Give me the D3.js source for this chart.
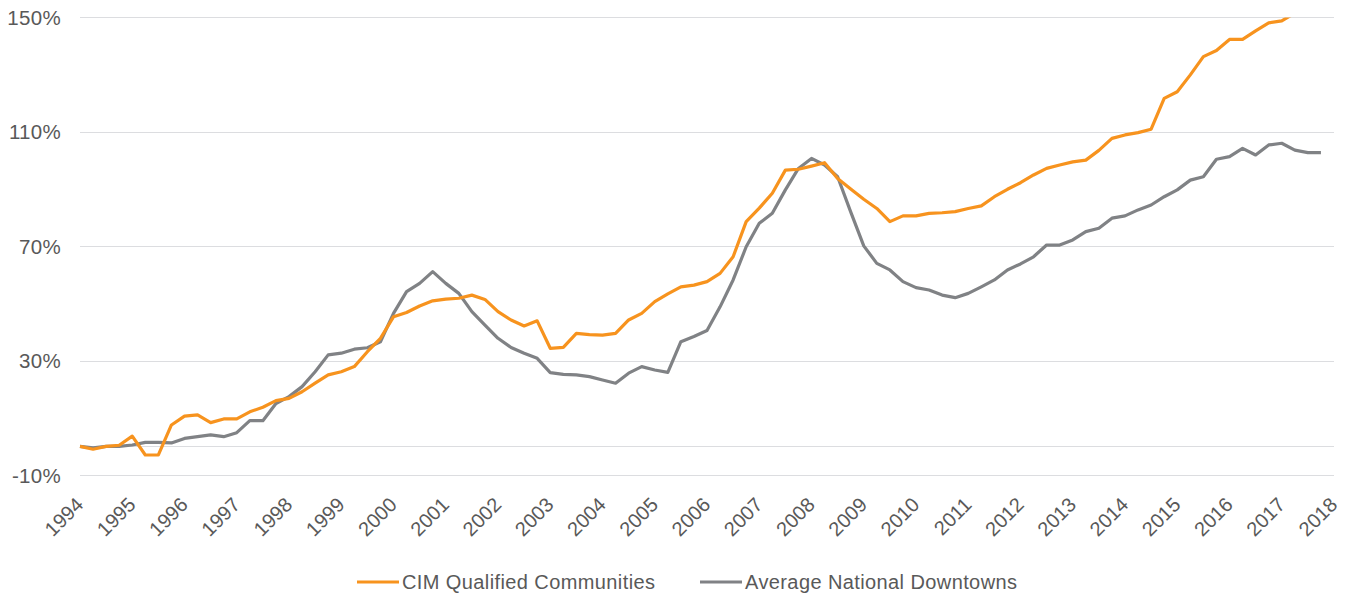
<!DOCTYPE html>
<html>
<head>
<meta charset="utf-8">
<script src="https://cdn.jsdelivr.net/npm/d3@7"></script>
<style>
  html, body { margin: 0; padding: 0; background: #fff; }
  svg { display: block; }
  text { font-family: "Liberation Sans", Arial, sans-serif; fill: #595959; }
</style>
</head>
<body>
<svg id="chart" width="1349" height="598"></svg>
<script>
// Quarterly data, 1994 Q1 – 2017 Q4 (cumulative % change)
const years = [1994,1995,1996,1997,1998,1999,2000,2001,2002,2003,2004,2005,2006,2007,2008,2009,2010,2011,2012,2013,2014,2015,2016,2017,2018];
const yTicks = [-10, 30, 70, 110, 150];
const gridValues = [-10, 0, 30, 70, 110, 150];
const seriesNames = ["CIM Qualified Communities", "Average National Downtowns"];

const cim = [0, -1, 0, 0.4, 3.6, -3, -3, 7.5, 10.6, 11, 8.3, 9.6, 9.6, 12.1, 13.7, 16, 16.8, 19.1, 22.1, 25, 26.1,
  27.9, 33.1, 37.8, 45.3, 46.8, 49.1, 50.9, 51.5, 51.8, 52.9, 51.4, 47.1, 44.2, 42.1, 43.9, 34.3, 34.6, 39.5, 39.1,
  38.9, 39.5, 44.2, 46.5, 50.6, 53.3, 55.8, 56.4, 57.6, 60.5, 66.3, 78.6, 83.3, 88.5, 96.6, 96.9, 98, 99.2, 93.7, 90,
  86.4, 83.2, 78.6, 80.6, 80.6, 81.5, 81.7, 82.1, 83.2, 84.1, 87.3, 89.9, 92.2, 94.9, 97.2, 98.4, 99.5, 100.1, 103.5,
  107.7, 108.9, 109.7, 110.9, 121.7, 124, 129.9, 136.3, 138.4, 142.3, 142.3, 145.3, 148.1, 148.8, 151.5, null, null];

const downtowns = [0, -0.5, 0, 0, 0.5, 1.4, 1.4, 1.2, 2.8, 3.4, 4.0, 3.4, 4.8, 9.0, 9.0, 15, 17.4, 20.9, 26.1, 32.0, 32.6,
  34.0, 34.5, 36.6, 46.5, 54.1, 57.0, 61.1, 57.0, 53.5, 47.1, 42.4, 37.8, 34.6, 32.6, 30.8, 25.8, 25.2, 25.0, 24.4,
  23.2, 22.1, 25.6, 27.9, 26.7, 25.9, 36.6, 38.4, 40.5, 48.8, 58.2, 69.8, 78, 81.5, 89.7, 97.2, 100.7, 98.4, 94.3, 82,
  70.1, 64, 61.7, 57.6, 55.5, 54.7, 52.9, 52, 53.5, 55.8, 58.2, 61.7, 63.8, 66.3, 70.4, 70.4, 72.2, 75.1, 76.3,
  79.8, 80.6, 82.7, 84.4, 87.3, 89.7, 93.1, 94.3, 100.4, 101.3, 104.2, 101.9, 105.4, 106, 103.6, 102.7, 102.7];

const colors = ["#F7931E", "#808285"];

const svg = d3.select("#chart");
const mLeft = 80, mRight = 1334, mTop = 17.4, mBottom = 475;

const x = d3.scaleLinear().domain([0, (years.length - 1) * 4]).range([mLeft, mRight]);
const y = d3.scaleLinear().domain([-10, 150]).range([mBottom, mTop]);

// clip
svg.append("defs").append("clipPath").attr("id", "plot")
  .append("rect").attr("x", mLeft - 5).attr("y", mTop).attr("width", mRight - mLeft + 10).attr("height", mBottom - mTop + 5);

// gridlines
svg.append("g").selectAll("line").data(gridValues).join("line")
  .attr("x1", mLeft).attr("x2", mRight)
  .attr("y1", d => Math.round(y(d)) + 0.5).attr("y2", d => Math.round(y(d)) + 0.5)
  .attr("stroke", "#dcdde0").attr("stroke-width", 1);

// y axis labels
const yAxis = d3.axisLeft(y).tickValues(yTicks).tickFormat(d => d + "%").tickSize(0).tickPadding(0);
const gy = svg.append("g").attr("transform", `translate(61,0)`).call(yAxis);
gy.select(".domain").remove();
gy.selectAll("text").style("font-size", "20.5px").attr("fill", "#595959")
  .style("letter-spacing", "0.3px")
  .style("font-family", '"Liberation Sans", Arial, sans-serif').attr("dy", "0.35em");

// x axis labels
const xAxis = d3.axisBottom(x).tickValues(years.map((yr, i) => i * 4)).tickFormat((d, i) => years[i]).tickSize(0);
const gx = svg.append("g").attr("transform", `translate(0,${mBottom})`).call(xAxis);
gx.select(".domain").remove();
gx.selectAll("text")
  .style("font-size", "20px").attr("fill", "#595959")
  .style("font-family", '"Liberation Sans", Arial, sans-serif')
  .attr("text-anchor", "end")
  .attr("dy", null).attr("y", null)
  .attr("transform", "translate(4,31) rotate(-45)");

// lines
const line = d3.line().defined(d => d != null).x((d, i) => x(i)).y(d => y(d));
const g = svg.append("g").attr("clip-path", "url(#plot)");
[downtowns, cim].forEach((s, k) => {
  g.append("path").datum(s)
    .attr("d", line)
    .attr("fill", "none")
    .attr("stroke", k === 0 ? colors[1] : colors[0])
    .attr("stroke-width", 3.2)
    .attr("stroke-linejoin", "round");
});

// legend
const legendItems = [
  { name: seriesNames[0], color: colors[0], x: 357 },
  { name: seriesNames[1], color: colors[1], x: 700 }
];
const lg = svg.append("g");
legendItems.forEach(it => {
  lg.append("line").attr("x1", it.x).attr("x2", it.x + 42).attr("y1", 582).attr("y2", 582)
    .attr("stroke", it.color).attr("stroke-width", 3.2);
  lg.append("text").attr("x", it.x + 45).attr("y", 589).text(it.name)
    .style("font-size", "20px").style("letter-spacing", "0.4px");
});
</script>
</body>
</html>
